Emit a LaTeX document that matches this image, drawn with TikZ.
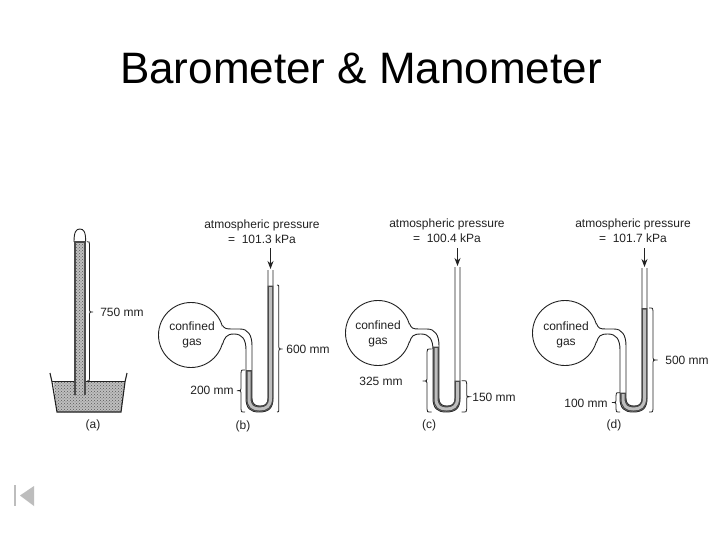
\documentclass[tikz,border=0pt]{standalone}
\usepackage{fontspec}
\setmainfont{Liberation Sans}
\usetikzlibrary{patterns,arrows.meta}
\definecolor{hgfill}{HTML}{BEBEBE}
\definecolor{hgdark}{HTML}{4A4A4A}
\definecolor{inkc}{HTML}{222222}
\definecolor{navc}{HTML}{BDBDBD}
\tikzset{
  px/.style={x=1pt,y=-1pt},
  lab/.style={font=\fontsize{12}{15}\selectfont,text=inkc,inner sep=0pt,align=center},
  ttl/.style={font=\fontsize{44}{50}\selectfont,text=black,inner sep=0pt},
  wallline/.style={draw=inkc,line width=0.9pt},
  braceline/.style={draw=inkc,line width=0.8pt},
  hgtone/.style={pattern=crosshatch dots,pattern color=gray!70!black}
}
% args: shift, bulb cy, top of right leg, Hg top right, Hg top left
\newcommand{\manoTube}[5]{%
\begin{scope}[shift={(#1,0)}]
  \draw[wallline,fill=white] (-55,#2) circle (32.5pt);
  \fill[white] (-24.4,#2-9.4) -- (-24.4,#2+9.4) -- (-15,335) -- (-15,328) -- cycle;
  \draw[wallline] (-23.6,#2-9.6) .. controls (-21.5,328.5) and (-20,329) .. (-14,329)
     -- (-6,329) .. controls (2,329) and (6,335) .. (6,346) -- (6,398)
     .. controls (6,405) and (10,406) .. (14,406) .. controls (18,406) and (22,405) .. (22,398) -- (22,#3);
  \draw[wallline] (-23.6,#2+9.6) .. controls (-21.5,#2+3) and (-20,334) .. (-12,334)
     .. controls (-4,334) and (0,339) .. (0,350) -- (0,398)
     .. controls (0,408) and (4,412) .. (13,412) .. controls (23,412) and (27,408) .. (27,398) -- (27,#3);
  \draw[line width=5.6pt,hgdark] (3,#5) -- (3,398) .. controls (3,406.5) and (7,409) .. (13.5,409)
     .. controls (20,409) and (24.5,406.5) .. (24.5,398) -- (24.5,#4);
  \draw[line width=3pt,hgfill] (3,#5+1.5) -- (3,398) .. controls (3,406.5) and (7,409) .. (13.5,409)
     .. controls (20,409) and (24.5,406.5) .. (24.5,398) -- (24.5,#4+1.5);
  \coordinate (arrtop) at (24.5,248);
  \coordinate (arrtip) at (24.5,#3-1);
  \draw[draw=inkc,line width=0.9pt,-{Stealth[length=8pt,width=6pt]}] (arrtop) -- (arrtip);
\end{scope}}
% args: x start, x vertical, x tip, y1, ymid, y2
\newcommand{\curlyb}[6]{%
  \draw[braceline] (#1,#4) .. controls (#2,#4) and (#2,#4) .. (#2,#4+3) -- (#2,#5-2)
    .. controls (#2,#5-0.5) and (#2,#5) .. (#3,#5)
    .. controls (#2,#5) and (#2,#5+0.5) .. (#2,#5+2) -- (#2,#6-3)
    .. controls (#2,#6) and (#2,#6) .. (#1,#6);}
\begin{document}
\begin{tikzpicture}[px]
\useasboundingbox (0,0) rectangle (720,540);
\fill[white] (0,0) rectangle (720,540);
\node[ttl] (title) at (361,68) {Barometer \& Manometer};

% (a) barometer
\fill[hgfill] (53.5,381.5) -- (57,412) -- (121,412) -- (124.5,381.5) -- cycle;
\path[hgtone] (53.5,381.5) -- (57,412) -- (121,412) -- (124.5,381.5) -- cycle;
\draw[draw=inkc,line width=1.1pt] (50,373) -- (52,382) -- (57,412) -- (121,412) -- (125,382) -- (127,373);
\draw[draw=inkc,line width=1.4pt] (52,381.5) -- (125,381.5);
\fill[hgfill] (74,242) rectangle (85.7,395);
\path[hgtone] (74,242) rectangle (85.7,395);
\draw[draw=inkc,line width=0.9pt] (74,242) .. controls (74,232) and (76,229) .. (79.8,229)
   .. controls (84,229) and (85.7,232) .. (85.7,242);
\draw[hgdark,line width=2.2pt] (75,241) -- (75,395);
\draw[hgdark,line width=2.2pt] (84.7,241) -- (84.7,395);
\draw[hgdark,line width=1.5pt] (74,242) -- (85.7,242);
\curlyb{87}{89.5}{93}{241.7}{312}{381}
\node[lab] (la) at (122,312) {750 mm};
\node[lab] (capa) at (93,425) {(a)};

% manometers
\manoTube{246}{335}{270}{285.7}{370}
\manoTube{433}{333}{267}{380.7}{346.7}
\manoTube{620}{333}{268}{308}{392.7}

% braces
\curlyb{277}{278.8}{282.7}{285}{349}{412}
\curlyb{245}{241}{237}{370}{390.7}{412}
\curlyb{431.7}{427}{422.7}{349}{381}{412}
\curlyb{461.7}{466.7}{469.5}{380.7}{396.7}{412}
\curlyb{649}{653}{657.7}{308}{360}{412}
\curlyb{620}{616}{612}{392.7}{402.5}{412}

% labels
\node[lab] (atb) at (262,231.5) {atmospheric pressure\\=~~101.3 kPa};
\node[lab] (atc) at (447,231) {atmospheric pressure\\=~~100.4 kPa};
\node[lab] (atd) at (633,231) {atmospheric pressure\\=~~101.7 kPa};
\node[lab] (gb) at (192,334.5) {confined\\gas};
\node[lab] (gc) at (378,334) {confined\\gas};
\node[lab] (gd) at (566,334.5) {confined\\gas};
\node[lab] (l600) at (308,349) {600 mm};
\node[lab] (l200) at (212,390) {200 mm};
\node[lab] (l325) at (381,381) {325 mm};
\node[lab] (l150) at (494,397) {150 mm};
\node[lab] (l500) at (687,360) {500 mm};
\node[lab] (l100) at (586,403) {100 mm};
\node[lab] (capb) at (243,426) {(b)};
\node[lab] (capc) at (429,425) {(c)};
\node[lab] (capd) at (614,425) {(d)};

% navigation icon
\fill[navc] (14,485) rectangle (16,506);
\fill[navc] (20,495.5) -- (34,486) -- (34,506) -- cycle;
\end{tikzpicture}
\end{document}
